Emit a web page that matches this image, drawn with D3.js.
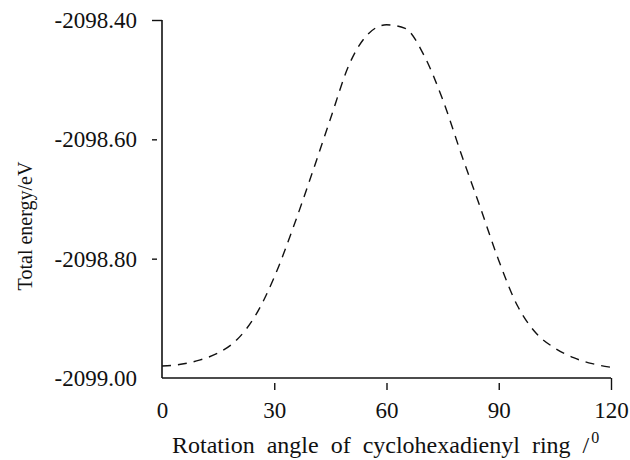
<!DOCTYPE html>
<html>
<head>
<meta charset="utf-8">
<script src="https://cdn.jsdelivr.net/npm/d3@7/dist/d3.min.js"></script>
<style>
  body { margin: 0; background: #fff; }
  svg text { font-family: "Liberation Serif", "Times New Roman", serif; fill: #111; }
</style>
</head>
<body>
<svg width="630" height="460"></svg>
<script>
// rotation angle (deg) vs total energy (eV)
const angles = [0, 5, 10, 15, 20, 25, 30, 35, 40, 45, 50, 55, 60,
                65, 70, 75, 80, 85, 90, 95, 100, 105, 110, 115, 120];
const energies = [-2098.980, -2098.977, -2098.970, -2098.958, -2098.936, -2098.895, -2098.831,
                  -2098.749, -2098.659, -2098.566, -2098.475, -2098.424, -2098.408,
                  -2098.414, -2098.459, -2098.533, -2098.625, -2098.713, -2098.803,
                  -2098.879, -2098.925, -2098.950, -2098.966, -2098.976, -2098.982];
const xTicks = [0, 30, 60, 90, 120];
const yTicks = [-2099.00, -2098.80, -2098.60, -2098.40];

const svg = d3.select("svg");
const margin = { left: 162, right: 19, top: 20, bottom: 82 };
const width = 630, height = 460;

const x = d3.scaleLinear().domain([0, 120]).range([margin.left, width - margin.right]);
const y = d3.scaleLinear().domain([-2099.0, -2098.4]).range([height - margin.bottom, margin.top]);

const data = angles.map((a, i) => ({ a: a, e: energies[i] }));

//////////// AXES ////////////

const xAxis = svg.append("g")
    .attr("transform", "translate(0," + y(-2099.0) + ")")
    .call(d3.axisBottom(x).tickValues(xTicks).tickSize(12).tickPadding(12).tickFormat(d => d.toFixed(0)));
xAxis.select(".domain").attr("d", "M" + x(0) + ",0H" + x(120)).attr("stroke-width", 1.6);
xAxis.selectAll(".tick line")
    .attr("stroke-width", 1.4)
    .attr("y1", d => d == 120 ? 0 : 5)
    .style("display", d => d == 0 ? "none" : null);
xAxis.selectAll(".tick text").style("font-size", "23px").attr("fill", "#111");

// plain hyphen, as in the original figure
const yAxis = svg.append("g")
    .attr("transform", "translate(" + x(0) + ",0)")
    .call(d3.axisLeft(y).tickValues(yTicks).tickSize(10).tickPadding(15).tickFormat(d => d.toFixed(2)));
yAxis.select(".domain").attr("d", "M0," + y(-2098.4) + "V" + y(-2099.0)).attr("stroke-width", 1.6);
yAxis.selectAll(".tick line")
    .attr("stroke-width", 1.4)
    .attr("x1", d => d == -2098.4 ? 0 : -5)
    .style("display", d => d == -2099.0 ? "none" : null);
yAxis.selectAll(".tick text").style("font-size", "23px").attr("fill", "#111");
yAxis.selectAll(".domain, .tick line").attr("stroke", "#111");
xAxis.selectAll(".domain, .tick line").attr("stroke", "#111");

//////////// CURVE ////////////

const line = d3.line()
    .x(d => x(d.a))
    .y(d => y(d.e))
    .curve(d3.curveMonotoneX);

svg.append("path")
    .datum(data)
    .attr("d", line)
    .attr("fill", "none")
    .attr("stroke", "#111")
    .attr("stroke-width", 1.4)
    .attr("stroke-dasharray", "9,7");

//////////// LABELS ////////////

const xLabel = svg.append("text")
    .attr("x", 172)
    .attr("y", 453)
    .style("font-size", "24px")
    .style("word-spacing", "6px");
xLabel.append("tspan").text("Rotation angle of cyclohexadienyl ring /");
xLabel.append("tspan").attr("dx", 2).attr("dy", -10).style("font-size", "16px").text("0");

svg.append("text")
    .attr("transform", "translate(32,226) rotate(-90)")
    .attr("text-anchor", "middle")
    .style("font-size", "20px")
    .text("Total energy/eV");
</script>
</body>
</html>
